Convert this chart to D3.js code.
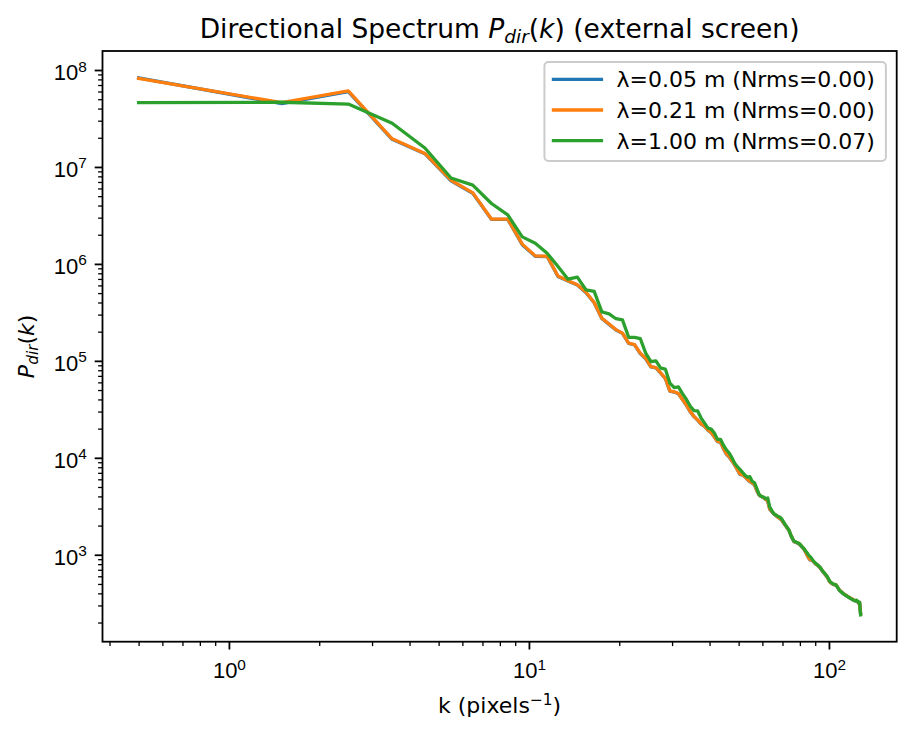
<!DOCTYPE html>
<html>
<head>
<meta charset="utf-8">
<title>Directional Spectrum</title>
<script src="https://d3js.org/d3.v7.min.js"></script>
<style>
    body { margin: 0; background: #ffffff; }
    svg { display: block; font-family: "DejaVu Sans", sans-serif; }
    text { white-space: pre; }
</style>
</head>
<body>
<script>
// wavenumbers k (pixels^-1)
var kValues = [
    0.5, 1.5, 2.5, 3.5, 4.5, 5.5, 6.5, 7.5, 8.5, 9.5, 10.5, 11.5, 12.5, 13.5, 14.5, 15.5,
    16.5, 17.5, 18.5, 19.5, 20.5, 21.5, 22.5, 23.5, 24.5, 25.5, 26.5, 27.5, 28.5, 29.5, 30.5, 31.5,
    32.5, 33.5, 34.5, 35.5, 36.5, 37.5, 38.5, 39.5, 40.5, 41.5, 42.5, 43.5, 44.5, 45.5, 46.5, 47.5,
    48.5, 49.5, 50.5, 51.5, 52.5, 53.5, 54.5, 55.5, 56.5, 57.5, 58.5, 59.5, 60.5, 61.5, 62.5, 63.5,
    64.5, 65.5, 66.5, 67.5, 68.5, 69.5, 70.5, 71.5, 72.5, 73.5, 74.5, 75.5, 76.5, 77.5, 78.5, 79.5,
    80.5, 81.5, 82.5, 83.5, 84.5, 85.5, 86.5, 87.5, 88.5, 89.5, 90.5, 91.5, 92.5, 93.5, 94.5, 95.5,
    96.5, 97.5, 98.5, 99.5, 100.5, 101.5, 102.5, 103.5, 104.5, 105.5, 106.5, 107.5, 108.5, 109.5, 110.5, 111.5,
    112.5, 113.5, 114.5, 115.5, 116.5, 117.5, 118.5, 119.5, 120.5, 121.5, 122.5, 123.5, 124.5, 125.5, 126.5, 127.5
];

// lambda = 0.05 m
var pdir005 = [
    8.3e7, 4.5e7, 6.0e7, 1.93e7, 1.37e7, 7.2e6, 5.35e6, 2.88e6, 2.88e6, 1.58e6, 1.2e6, 1.19e6, 7.4e5, 6.65e5, 6.05e5, 5.05e5,
    3.97e5, 2.73e5, 2.38e5, 2.08e5, 1.92e5, 1.51e5, 1.46e5, 1.19e5, 1.05e5, 8.65e4, 8.45e4, 7.45e4, 6.55e4, 4.87e4, 4.77e4, 4.57e4,
    3.98e4, 3.48e4, 2.98e4, 2.66e4, 2.45e4, 2.23e4, 2.11e4, 1.93e4, 1.81e4, 1.64e4, 1.47e4, 1.45e4, 1.24e4, 1.09e4, 1.02e4, 9.25e3,
    8.45e3, 7.55e3, 6.75e3, 6.65e3, 6.35e3, 5.97e3, 5.67e3, 5.47e3, 5.27e3, 4.58e3, 4.13e3, 3.98e3, 3.88e3, 3.73e3, 3.58e3, 2.94e3,
    2.79e3, 2.64e3, 2.54e3, 2.44e3, 2.37e3, 2.29e3, 2.14e3, 2.02e3, 1.89e3, 1.79e3, 1.61e3, 1.47e3, 1.36e3, 1.34e3, 1.32e3, 1.29e3,
    1.24e3, 1.19e3, 1.14e3, 1.07e3, 995, 925, 885, 895, 855, 826, 796, 781, 756, 731, 697, 667,
    642, 617, 592, 562, 528, 513, 503, 493, 488, 490, 468, 448, 428, 418, 408, 398,
    390, 383, 376, 370, 363, 358, 353, 348, 342, 338, 334, 336, 328, 316, 320, 246
];

// lambda = 0.21 m
var pdir021 = [
    8.2e7, 4.6e7, 6.1e7, 1.95e7, 1.38e7, 7.3e6, 5.4e6, 2.9e6, 2.9e6, 1.6e6, 1.21e6, 1.2e6, 7.5e5, 6.7e5, 6.1e5, 5.1e5,
    4.0e5, 2.75e5, 2.4e5, 2.1e5, 1.93e5, 1.52e5, 1.47e5, 1.2e5, 1.06e5, 8.7e4, 8.5e4, 7.5e4, 6.6e4, 4.9e4, 4.8e4, 4.6e4,
    4.0e4, 3.5e4, 3.0e4, 2.67e4, 2.46e4, 2.24e4, 2.12e4, 1.94e4, 1.82e4, 1.65e4, 1.48e4, 1.46e4, 1.25e4, 1.1e4, 1.03e4, 9.3e3,
    8.5e3, 7.6e3, 6.8e3, 6.7e3, 6.4e3, 6.0e3, 5.7e3, 5.5e3, 5.3e3, 4.6e3, 4.15e3, 4.0e3, 3.9e3, 3.75e3, 3.6e3, 2.95e3,
    2.8e3, 2.65e3, 2.55e3, 2.45e3, 2.38e3, 2.3e3, 2.15e3, 2.03e3, 1.9e3, 1.8e3, 1.62e3, 1.48e3, 1.37e3, 1.35e3, 1.33e3, 1.3e3,
    1.25e3, 1.2e3, 1.15e3, 1.08e3, 1.0e3, 930, 890, 900, 860, 830, 800, 785, 760, 735, 700, 670,
    645, 620, 595, 565, 530, 515, 505, 495, 490, 492, 470, 450, 430, 420, 410, 400,
    392, 385, 378, 372, 365, 360, 355, 350, 344, 340, 336, 338, 330, 318, 322, 248
];

// lambda = 1.00 m
var pdir100 = [
    4.6e7, 4.65e7, 4.45e7, 2.82e7, 1.57e7, 7.7e6, 6.5e6, 4.2e6, 3.2e6, 1.9e6, 1.63e6, 1.29e6, 9.4e5, 6.95e5, 7.3e5, 5.4e5,
    5.2e5, 3.2e5, 3.05e5, 2.72e5, 2.65e5, 1.75e5, 1.75e5, 1.7e5, 1.2e5, 9.8e4, 1.0e5, 8.4e4, 8.2e4, 5.9e4, 5.3e4, 5.4e4,
    4.6e4, 4.0e4, 3.4e4, 3.07e4, 3.05e4, 2.57e4, 2.28e4, 2.02e4, 1.98e4, 1.8e4, 1.55e4, 1.55e4, 1.35e4, 1.21e4, 1.12e4, 1.0e4,
    8.8e3, 8.1e3, 7.6e3, 7.1e3, 6.6e3, 6.3e3, 6.4e3, 5.7e3, 5.5e3, 4.8e3, 4.2e3, 4.0e3, 3.94e3, 3.8e3, 3.85e3, 3.1e3,
    2.85e3, 2.65e3, 2.58e3, 2.5e3, 2.45e3, 2.35e3, 2.2e3, 2.05e3, 1.92e3, 1.81e3, 1.62e3, 1.48e3, 1.38e3, 1.36e3, 1.33e3, 1.31e3,
    1.26e3, 1.2e3, 1.16e3, 1.1e3, 1.05e3, 990, 960, 920, 870, 840, 810, 790, 765, 740, 705, 675,
    650, 625, 600, 570, 535, 520, 508, 498, 495, 490, 468, 448, 428, 418, 408, 398,
    390, 383, 376, 370, 364, 358, 352, 347, 342, 338, 334, 340, 332, 322, 325, 240
];

var seriesNames = ["λ=0.05 m (Nrms=0.00)", "λ=0.21 m (Nrms=0.00)", "λ=1.00 m (Nrms=0.07)"];
var seriesColors = ["#1f77b4", "#ff7f0e", "#2ca02c"];
var xTickExps = [0, 1, 2];
var yTickExps = [3, 4, 5, 6, 7, 8];

var series = [pdir005, pdir021, pdir100].map(function(vals, i) {
    return {
        name: seriesNames[i],
        color: seriesColors[i],
        points: vals.map(function(v, j) { return {k: kValues[j], p: v}; })
    };
});

var W = 913, H = 737;
var margin = {top: 51, right: 16.3, bottom: 95.3, left: 102.5};
var width = W - margin.left - margin.right,
    height = H - margin.top - margin.bottom;

var majorLen = 7.8, minorLen = 4.4, tickPad = 7.8, fontSize = 22;

// matplotlib-like 5% padding in log space
function logPad(lo, hi) {
    var a = Math.log10(lo), b = Math.log10(hi), p = 0.05 * (b - a);
    return [Math.pow(10, a - p), Math.pow(10, b + p)];
}

function minorTicks(domain) {
    var out = [];
    var e0 = Math.floor(Math.log10(domain[0])), e1 = Math.ceil(Math.log10(domain[1]));
    for (var e = e0; e <= e1; e++) {
        for (var m = 2; m <= 9; m++) {
            var v = m * Math.pow(10, e);
            if (v >= domain[0] && v <= domain[1]) out.push(v);
        }
    }
    return out;
}

var allValues = pdir005.concat(pdir021, pdir100);

var x = d3.scaleLog()
    .domain(logPad(d3.min(kValues), d3.max(kValues)))
    .range([0, width]);

var y = d3.scaleLog()
    .domain(logPad(d3.min(allValues), d3.max(allValues)))
    .range([height, 0]);

var svg = d3.select("body").append("svg")
    .attr("width", W)
    .attr("height", H);

var canvas = svg.append("g")
    .attr("transform", "translate(" + margin.left + "," + margin.top + ")");

// lines
var line = d3.line()
    .x(function(d) { return x(d.k); })
    .y(function(d) { return y(d.p); });

canvas.selectAll(".series")
    .data(series)
    .enter()
    .append("path")
    .attr("class", "series")
    .attr("d", function(d) { return line(d.points); })
    .attr("fill", "none")
    .attr("stroke", function(d) { return d.color; })
    .attr("stroke-width", 3.3)
    .attr("stroke-linejoin", "round")
    .attr("stroke-linecap", "square");

// axes
function styleAxis(g, w) {
    g.select(".domain").remove();
    g.selectAll(".tick line").attr("stroke", "#000").attr("stroke-width", w);
    g.selectAll(".tick text").remove();
}

var xMinor = canvas.append("g")
    .attr("transform", "translate(0," + height + ")")
    .call(d3.axisBottom(x).tickValues(minorTicks(x.domain())).tickSize(minorLen).tickSizeOuter(0).tickFormat(""));
styleAxis(xMinor, 1.3);

var xMajor = canvas.append("g")
    .attr("transform", "translate(0," + height + ")")
    .call(d3.axisBottom(x).tickValues(xTickExps.map(function(e) { return Math.pow(10, e); })).tickSize(majorLen).tickSizeOuter(0).tickFormat(""));
styleAxis(xMajor, 1.8);

var yMinor = canvas.append("g")
    .call(d3.axisLeft(y).tickValues(minorTicks(y.domain())).tickSize(minorLen).tickSizeOuter(0).tickFormat(""));
styleAxis(yMinor, 1.3);

var yMajor = canvas.append("g")
    .call(d3.axisLeft(y).tickValues(yTickExps.map(function(e) { return Math.pow(10, e); })).tickSize(majorLen).tickSizeOuter(0).tickFormat(""));
styleAxis(yMajor, 1.8);

function powerLabel(sel) {
    sel.append("tspan").text("10");
    sel.append("tspan")
        .attr("dy", -8.5)
        .attr("font-size", 15.4)
        .text(function(d) { return Math.round(Math.log10(d)); });
}

xMajor.selectAll(".tick").append("text")
    .attr("x", 0)
    .attr("y", majorLen + tickPad + 21)
    .attr("text-anchor", "middle")
    .attr("font-size", fontSize)
    .attr("fill", "#000")
    .call(powerLabel);

yMajor.selectAll(".tick").append("text")
    .attr("x", -(majorLen + tickPad))
    .attr("y", 9.5)
    .attr("text-anchor", "end")
    .attr("font-size", fontSize)
    .attr("fill", "#000")
    .call(powerLabel);

// frame
canvas.append("rect")
    .attr("width", width)
    .attr("height", height)
    .attr("fill", "none")
    .attr("stroke", "#000")
    .attr("stroke-width", 1.8);

// title
var title = canvas.append("text")
    .attr("x", width / 2)
    .attr("y", -13)
    .attr("text-anchor", "middle")
    .attr("font-size", 26.5)
    .attr("fill", "#000");
title.append("tspan").text("Directional Spectrum ");
title.append("tspan").attr("font-style", "italic").text("P");
title.append("tspan").attr("font-style", "italic").attr("font-size", 18.5).attr("dy", 5).text("dir");
title.append("tspan").attr("dy", -5).text("(");
title.append("tspan").attr("font-style", "italic").text("k");
title.append("tspan").text(") (external screen)");

// x label
var xlab = canvas.append("text")
    .attr("x", width / 2)
    .attr("y", height + 71.5)
    .attr("text-anchor", "middle")
    .attr("font-size", fontSize)
    .attr("fill", "#000");
xlab.append("tspan").text("k (pixels");
xlab.append("tspan").attr("font-size", 15.4).attr("dy", -8.5).text("−1");
xlab.append("tspan").attr("dy", 8.5).text(")");

// y label
var ylab = svg.append("text")
    .attr("transform", "translate(34," + (margin.top + height / 2) + ") rotate(-90)")
    .attr("text-anchor", "middle")
    .attr("font-size", fontSize)
    .attr("fill", "#000");
ylab.append("tspan").attr("font-style", "italic").text("P");
ylab.append("tspan").attr("font-style", "italic").attr("font-size", 15.4).attr("dy", 4).text("dir");
ylab.append("tspan").attr("dy", -4).text("(");
ylab.append("tspan").attr("font-style", "italic").text("k");
ylab.append("tspan").text(")");

// legend
var legend = canvas.append("g");
var legendBox = legend.append("rect")
    .attr("fill", "#ffffff")
    .attr("fill-opacity", 0.8)
    .attr("stroke", "#cccccc")
    .attr("stroke-width", 2)
    .attr("rx", 4);

var rows = legend.selectAll(".row")
    .data(series)
    .enter()
    .append("g")
    .attr("class", "row")
    .attr("transform", function(d, i) { return "translate(0," + (17.3 + i * 30.7) + ")"; });

rows.append("line")
    .attr("x1", 9)
    .attr("x2", 57)
    .attr("stroke", function(d) { return d.color; })
    .attr("stroke-width", 3.3)
    .attr("stroke-linecap", "square");

var labels = rows.append("text")
    .attr("x", 72)
    .attr("y", 8)
    .attr("font-size", fontSize)
    .attr("fill", "#000")
    .text(function(d) { return d.name; });

var maxLen = 0;
labels.each(function() { maxLen = Math.max(maxLen, this.getComputedTextLength()); });
var boxW = 72 + maxLen + 11, boxH = 99;
legendBox.attr("width", boxW).attr("height", boxH);
legend.attr("transform", "translate(" + (width - 10.8 - boxW) + ",11)");
</script>
</body>
</html>
